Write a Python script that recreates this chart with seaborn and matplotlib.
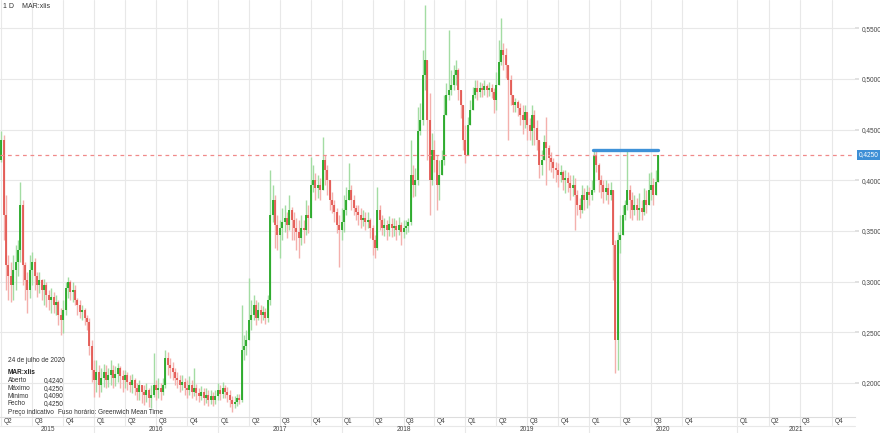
#Imports
import numpy as np
import matplotlib
matplotlib.use("Agg")
import matplotlib.pyplot as plt
import matplotlib.transforms as mtransforms
import seaborn as sns

#Data (weekly candles)
first_open = 0.420

close_2015 = [0.440, 0.366, 0.316, 0.306, 0.297, 0.311, 0.319, 0.331, 0.376, 0.316, 0.302, 0.292, 0.311,
              0.319, 0.306, 0.297, 0.302, 0.292, 0.297, 0.287, 0.282, 0.285, 0.277, 0.280, 0.267, 0.262,
              0.272, 0.294, 0.300, 0.290, 0.292, 0.282, 0.277, 0.270, 0.272, 0.264, 0.260, 0.237, 0.213]
high_2015 = [0.449, 0.445, 0.385, 0.326, 0.319, 0.326, 0.336, 0.341, 0.398, 0.380, 0.319, 0.309, 0.326,
             0.329, 0.323, 0.309, 0.309, 0.303, 0.303, 0.300, 0.292, 0.294, 0.290, 0.287, 0.282, 0.274,
             0.282, 0.300, 0.305, 0.302, 0.300, 0.297, 0.284, 0.282, 0.277, 0.274, 0.267, 0.264, 0.242]
low_2015 = [0.418, 0.341, 0.292, 0.282, 0.280, 0.282, 0.292, 0.306, 0.319, 0.297, 0.282, 0.269, 0.284,
            0.297, 0.292, 0.285, 0.289, 0.282, 0.277, 0.275, 0.272, 0.269, 0.269, 0.267, 0.257, 0.247,
            0.249, 0.267, 0.284, 0.282, 0.280, 0.277, 0.267, 0.264, 0.262, 0.257, 0.252, 0.228, 0.201]

close_2016 = [0.203, 0.211, 0.198, 0.205, 0.211, 0.203, 0.208, 0.213, 0.205, 0.209, 0.215, 0.207, 0.203,
              0.208, 0.201, 0.198, 0.203, 0.195, 0.191, 0.198, 0.191, 0.188, 0.193, 0.185, 0.188, 0.198,
              0.193, 0.195, 0.191, 0.198, 0.225, 0.218, 0.215, 0.211, 0.205, 0.203, 0.198, 0.201, 0.195,
              0.193, 0.198, 0.191, 0.195, 0.190, 0.187, 0.191, 0.185, 0.188, 0.183, 0.187, 0.183, 0.187]
high_2016 = [0.223, 0.223, 0.218, 0.215, 0.219, 0.218, 0.215, 0.223, 0.218, 0.217, 0.220, 0.217, 0.213,
             0.213, 0.211, 0.208, 0.209, 0.205, 0.200, 0.203, 0.198, 0.198, 0.200, 0.195, 0.198, 0.230,
             0.203, 0.205, 0.200, 0.205, 0.233, 0.231, 0.225, 0.221, 0.215, 0.211, 0.208, 0.208, 0.205,
             0.203, 0.207, 0.203, 0.215, 0.199, 0.195, 0.197, 0.195, 0.195, 0.193, 0.193, 0.191, 0.193]
low_2016 = [0.186, 0.191, 0.186, 0.191, 0.196, 0.195, 0.196, 0.198, 0.195, 0.197, 0.201, 0.195, 0.191,
            0.195, 0.193, 0.191, 0.190, 0.188, 0.183, 0.183, 0.180, 0.178, 0.181, 0.176, 0.175, 0.186,
            0.183, 0.185, 0.183, 0.188, 0.195, 0.208, 0.205, 0.203, 0.198, 0.195, 0.191, 0.193, 0.188,
            0.185, 0.188, 0.185, 0.187, 0.183, 0.181, 0.183, 0.178, 0.180, 0.177, 0.179, 0.177, 0.179]

close_2017 = [0.193, 0.189, 0.195, 0.191, 0.188, 0.183, 0.179, 0.181, 0.185, 0.183, 0.233, 0.237, 0.242,
              0.262, 0.267, 0.277, 0.264, 0.272, 0.267, 0.270, 0.264, 0.282, 0.366, 0.380, 0.356, 0.346,
              0.353, 0.359, 0.363, 0.356, 0.371, 0.361, 0.353, 0.349, 0.343, 0.353, 0.351, 0.366, 0.363,
              0.395, 0.400, 0.392, 0.395, 0.390, 0.420, 0.410, 0.400, 0.380, 0.376, 0.369, 0.356, 0.351]
high_2017 = [0.200, 0.198, 0.201, 0.198, 0.196, 0.193, 0.187, 0.187, 0.189, 0.189, 0.277, 0.247, 0.252,
             0.304, 0.282, 0.287, 0.282, 0.280, 0.277, 0.276, 0.274, 0.287, 0.410, 0.395, 0.385, 0.366,
             0.361, 0.373, 0.376, 0.369, 0.385, 0.374, 0.369, 0.363, 0.361, 0.366, 0.361, 0.380, 0.376,
             0.423, 0.415, 0.407, 0.405, 0.402, 0.443, 0.425, 0.415, 0.395, 0.388, 0.380, 0.373, 0.366]
low_2017 = [0.183, 0.183, 0.185, 0.185, 0.181, 0.176, 0.171, 0.175, 0.177, 0.179, 0.181, 0.223, 0.228,
            0.242, 0.252, 0.262, 0.257, 0.262, 0.259, 0.262, 0.258, 0.260, 0.277, 0.359, 0.333, 0.331,
            0.323, 0.341, 0.349, 0.343, 0.351, 0.341, 0.341, 0.331, 0.323, 0.336, 0.338, 0.346, 0.348,
            0.366, 0.388, 0.380, 0.382, 0.380, 0.390, 0.395, 0.385, 0.371, 0.368, 0.359, 0.348, 0.314]

close_2018 = [0.359, 0.371, 0.380, 0.390, 0.380, 0.373, 0.369, 0.366, 0.361, 0.363, 0.359, 0.361, 0.353,
              0.341, 0.333, 0.371, 0.361, 0.353, 0.356, 0.351, 0.357, 0.353, 0.355, 0.351, 0.356, 0.349,
              0.353, 0.355, 0.359, 0.405, 0.395, 0.400, 0.449, 0.459, 0.504, 0.519, 0.459, 0.400, 0.430,
              0.420, 0.395, 0.405, 0.420, 0.464, 0.484, 0.489, 0.494, 0.504, 0.509, 0.489, 0.474, 0.440]
high_2018 = [0.373, 0.385, 0.393, 0.417, 0.395, 0.385, 0.376, 0.376, 0.373, 0.371, 0.369, 0.369, 0.363,
             0.356, 0.346, 0.393, 0.376, 0.366, 0.363, 0.361, 0.365, 0.363, 0.363, 0.361, 0.364, 0.359,
             0.361, 0.361, 0.363, 0.440, 0.415, 0.412, 0.472, 0.476, 0.528, 0.573, 0.519, 0.486, 0.447,
             0.440, 0.425, 0.420, 0.430, 0.484, 0.496, 0.548, 0.509, 0.514, 0.519, 0.511, 0.489, 0.464]
low_2018 = [0.341, 0.349, 0.366, 0.380, 0.371, 0.366, 0.361, 0.356, 0.353, 0.355, 0.351, 0.353, 0.343,
            0.326, 0.323, 0.331, 0.351, 0.346, 0.345, 0.341, 0.345, 0.344, 0.345, 0.341, 0.346, 0.336,
            0.343, 0.347, 0.349, 0.356, 0.383, 0.384, 0.395, 0.445, 0.454, 0.489, 0.420, 0.366, 0.395,
            0.408, 0.371, 0.380, 0.408, 0.415, 0.469, 0.479, 0.484, 0.489, 0.494, 0.479, 0.461, 0.430]

close_2019 = [0.425, 0.454, 0.469, 0.484, 0.491, 0.487, 0.491, 0.489, 0.493, 0.489, 0.491, 0.487, 0.479,
              0.494, 0.517, 0.528, 0.523, 0.514, 0.499, 0.484, 0.474, 0.477, 0.471, 0.464, 0.459, 0.467,
              0.454, 0.449, 0.464, 0.451, 0.440, 0.415, 0.420, 0.438, 0.432, 0.422, 0.418, 0.412, 0.410,
              0.405, 0.408, 0.400, 0.402, 0.397, 0.392, 0.395, 0.385, 0.376, 0.371, 0.385, 0.380, 0.388]
high_2019 = [0.454, 0.462, 0.479, 0.492, 0.499, 0.499, 0.497, 0.496, 0.499, 0.495, 0.497, 0.495, 0.491,
             0.507, 0.538, 0.560, 0.535, 0.530, 0.514, 0.504, 0.484, 0.481, 0.479, 0.476, 0.474, 0.474,
             0.464, 0.461, 0.474, 0.469, 0.459, 0.435, 0.430, 0.445, 0.462, 0.435, 0.428, 0.422, 0.418,
             0.417, 0.415, 0.410, 0.410, 0.408, 0.405, 0.405, 0.402, 0.390, 0.382, 0.395, 0.392, 0.395]
low_2019 = [0.417, 0.440, 0.454, 0.472, 0.481, 0.479, 0.482, 0.482, 0.484, 0.482, 0.483, 0.481, 0.466,
            0.469, 0.499, 0.514, 0.509, 0.501, 0.440, 0.474, 0.467, 0.467, 0.463, 0.454, 0.446, 0.451,
            0.440, 0.440, 0.435, 0.435, 0.430, 0.402, 0.405, 0.420, 0.395, 0.410, 0.408, 0.402, 0.398,
            0.393, 0.398, 0.390, 0.387, 0.388, 0.380, 0.384, 0.351, 0.366, 0.363, 0.368, 0.371, 0.373]

close_2020 = [0.385, 0.390, 0.425, 0.415, 0.400, 0.395, 0.388, 0.392, 0.385, 0.390, 0.336, 0.242, 0.341,
              0.346, 0.366, 0.376, 0.390, 0.380, 0.371, 0.376, 0.371, 0.373, 0.369, 0.380, 0.376, 0.390,
              0.395, 0.385, 0.398, 0.425]
high_2020 = [0.393, 0.400, 0.430, 0.430, 0.417, 0.405, 0.400, 0.400, 0.397, 0.398, 0.390, 0.341, 0.349,
             0.366, 0.376, 0.380, 0.430, 0.395, 0.388, 0.385, 0.382, 0.387, 0.380, 0.392, 0.390, 0.407,
             0.408, 0.402, 0.410, 0.425]
low_2020 = [0.376, 0.380, 0.388, 0.408, 0.388, 0.382, 0.378, 0.380, 0.377, 0.380, 0.302, 0.210, 0.213,
            0.328, 0.346, 0.361, 0.371, 0.363, 0.361, 0.366, 0.361, 0.361, 0.361, 0.366, 0.368, 0.376,
            0.380, 0.376, 0.385, 0.400]

last_price = 0.425
level_price = 0.430
level_span = [19.13, 21.23]   # Q1 2020 .. last candle, in quarters

quarter_ticks = list(range(23)) + [23.78, 24.8, 25.8, 26.85]
quarter_labels = (["Q2", "Q3", "Q4"] + ["Q1", "Q2", "Q3", "Q4"] * 6)
year_names = ["2015", "2016", "2017", "2018", "2019", "2020", "2021"]
year_bounds = [0, 3, 7, 11, 15, 19, 23.78, 27.59]

info_lines = [("Aberto", "0,4240"), ("Máximo", "0,4250"),
              ("Mínimo", "0,4090"), ("Fecho", "0,4250")]

#Style
sns.set_theme(style="white")
plt.rcParams["font.family"] = ["Liberation Sans", "DejaVu Sans"]

up_body, up_wick = "#1ea51e", "#a3dca3"
dn_body, dn_wick = "#e2524c", "#f4b0ad"
grid_c = "#e8e8e8"
txt_c = "#444444"
fs = 4.7

closes = np.array(close_2015 + close_2016 + close_2017 + close_2018 + close_2019 + close_2020)
highs = np.array(high_2015 + high_2016 + high_2017 + high_2018 + high_2019 + high_2020)
lows = np.array(low_2015 + low_2016 + low_2017 + low_2018 + low_2019 + low_2020)
opens = np.r_[first_open, closes[:-1]]
x = np.arange(len(closes)) / 13.0

top = np.maximum(opens, closes)
bot = np.minimum(opens, closes)
top = np.maximum(top, bot + 0.0012)
hi = np.maximum(highs, top)
lo = np.minimum(lows, bot)
up = closes >= opens

fig = plt.figure(figsize=(8.8, 4.33), dpi=100)
ax = fig.add_axes([0, 16 / 433, 855 / 880, 417 / 433])
ax.set_xlim(-0.04, 27.59)
ax.set_ylim(0.1665, 0.5777)

#Grid
yt = np.arange(0.20, 0.56, 0.05)
for v in yt:
    ax.axhline(v, color=grid_c, lw=0.8, zorder=0)
for q in quarter_ticks:
    ax.axvline(q, color=grid_c, lw=0.8, zorder=0)

#Candles
ax.vlines(x[up], lo[up], hi[up], color=up_wick, lw=1.0, zorder=2)
ax.vlines(x[~up], lo[~up], hi[~up], color=dn_wick, lw=1.0, zorder=2)
ax.vlines(x[up], bot[up], top[up], color=up_body, lw=1.25, zorder=3)
ax.vlines(x[~up], bot[~up], top[~up], color=dn_body, lw=1.25, zorder=3)

#Last price line and drawn level
ax.axhline(last_price, color="#f08a8a", lw=0.9, ls=(0, (3, 3)), zorder=4)
sns.lineplot(x=level_span, y=[level_price, level_price], ax=ax,
             color="#3f92d8", lw=2.4, zorder=5)

#Axes cosmetics
for s in ["top", "left", "right"]:
    ax.spines[s].set_visible(False)
ax.spines["bottom"].set_color("#dddddd")
ax.spines["bottom"].set_linewidth(0.8)
ax.set_xticks([])
ax.set_xlabel("")
ax.set_ylabel("")
ax.yaxis.tick_right()
ax.set_yticks(yt)
ax.set_yticklabels([f"{v:.4f}".replace(".", ",") for v in yt])
ax.tick_params(axis="y", length=3, color="#dddddd", labelsize=fs,
               labelcolor=txt_c, pad=1.5)

#Current price tag
ax.text(1.004, (last_price - 0.1665) / (0.5777 - 0.1665), "0,4250",
        transform=ax.transAxes, fontsize=fs, color="white", va="center", ha="left",
        bbox=dict(boxstyle="square,pad=0.2", fc="#3d8fd6", ec="none"), zorder=6)

#Bottom time axis
tq = mtransforms.blended_transform_factory(ax.transData, fig.transFigure)
for q, lab in zip(quarter_ticks, quarter_labels):
    ax.plot([q, q], [8 / 433, 16 / 433], transform=tq, color=grid_c, lw=0.8, clip_on=False)
    ax.text(q + 0.08, 11.5 / 433, lab, transform=tq, fontsize=fs, color=txt_c,
            va="center", ha="left")
ax.plot([-0.04, 27.59], [7.5 / 433, 7.5 / 433], transform=tq, color=grid_c, lw=0.8, clip_on=False)
for b in year_bounds[1:-1]:
    ax.plot([b, b], [0, 7.5 / 433], transform=tq, color=grid_c, lw=0.8, clip_on=False)
for name, a, b in zip(year_names, year_bounds[:-1], year_bounds[1:]):
    ax.text((a + b) / 2, 3.5 / 433, name, transform=tq, fontsize=fs, color=txt_c,
            va="center", ha="center")

#Header and info box
def fpos(px, py):
    return px / 880, 1 - py / 433

fig.text(*fpos(3, 7), "1 D    MAR:xlis", fontsize=fs + 0.3, color="#333333", va="center")
fig.text(*fpos(8, 360), "24 de julho de 2020", fontsize=fs, color="#333333", va="center")
fig.text(*fpos(8, 372), "MAR:xlis", fontsize=fs, color="#222222", va="center", weight="bold")
for k, (name, val) in enumerate(info_lines):
    fig.text(*fpos(8, 381 + 7.5 * k), name, fontsize=fs, color="#333333", va="center")
    fig.text(*fpos(44, 381 + 7.5 * k), val, fontsize=fs, color="#333333", va="center")
fig.text(*fpos(8, 413), "Preço indicativo", fontsize=fs, color="#333333", va="center")
fig.text(*fpos(58, 413), "Fuso horário: Greenwich Mean Time", fontsize=fs,
         color="#333333", va="center")

#Save Plot
fig.savefig("out.png", dpi=100)
